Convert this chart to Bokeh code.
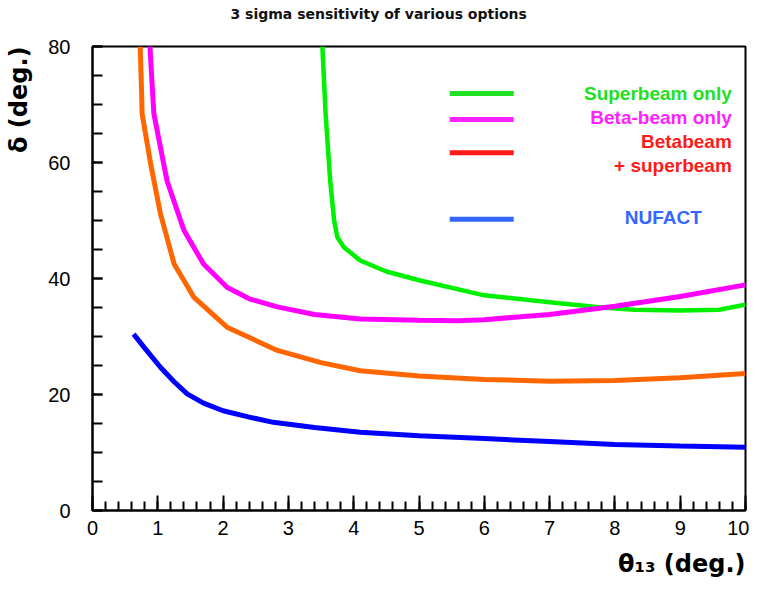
from bokeh.plotting import figure
from bokeh.models import Label, FixedTicker, Range1d, Title
from bokeh.embed import file_html
from bokeh.resources import INLINE

# ---- data (theta13 in degrees, delta in degrees) ----
theta_superbeam = [3.52, 3.57, 3.64, 3.70, 3.75, 3.85, 4.1, 4.5, 5.0, 6.0, 7.0, 7.8, 8.3, 9.0, 9.6, 10.0]
delta_superbeam = [80.0, 68.4, 56.9, 50.0, 47.1, 45.4, 43.1, 41.2, 39.7, 37.1, 35.9, 35.0, 34.6, 34.5, 34.6, 35.5]

theta_betabeam = [0.88, 0.91, 0.94, 1.14, 1.40, 1.70, 2.06, 2.4, 2.83, 3.4, 4.1, 5.0, 5.6, 6.0, 7.0, 8.0, 9.0, 10.0]
delta_betabeam = [80.0, 74.0, 68.4, 56.9, 48.3, 42.5, 38.5, 36.5, 35.1, 33.8, 33.0, 32.8, 32.7, 32.9, 33.8, 35.2, 36.9, 38.9]

theta_combined = [0.73, 0.75, 0.76, 0.89, 1.04, 1.25, 1.55, 2.06, 2.83, 3.5, 4.1, 5.0, 6.0, 7.0, 8.0, 9.0, 10.0]
delta_combined = [80.0, 73.0, 68.4, 59.8, 51.2, 42.5, 36.8, 31.6, 27.6, 25.5, 24.1, 23.2, 22.6, 22.3, 22.4, 22.9, 23.6]

theta_nufact = [0.63, 0.8, 1.04, 1.25, 1.45, 1.7, 2.0, 2.4, 2.77, 3.4, 4.1, 5.0, 6.0, 7.0, 8.0, 9.0, 10.0]
delta_nufact = [30.4, 28.0, 24.7, 22.2, 20.1, 18.5, 17.2, 16.1, 15.2, 14.3, 13.5, 12.9, 12.4, 11.9, 11.4, 11.1, 10.9]

x_ticks = [0, 1, 2, 3, 4, 5, 6, 7, 8, 9, 10]
y_ticks = [0, 20, 40, 60, 80]

legend_labels = ["Superbeam only", "Beta-beam only", "Betabeam", "+ superbeam", "NUFACT"]

p = figure(width=749, height=589, output_backend="svg", toolbar_location=None,
           title=None, x_range=Range1d(0, 10), y_range=Range1d(0, 80),
           min_border_left=92, min_border_right=4, min_border_top=46, min_border_bottom=79)
p.grid.visible = False
p.outline_line_color = "black"
p.outline_line_width = 2
p.background_fill_color = "white"
p.border_fill_color = "white"

tick_font = "Liberation Sans"
for ax in (p.xaxis, p.yaxis):
    ax.axis_line_color = "black"
    ax.axis_line_width = 2
    ax.major_tick_line_color = "black"
    ax.minor_tick_line_color = "black"
    ax.major_tick_line_width = 2
    ax.minor_tick_line_width = 2
    ax.major_tick_out = 0
    ax.minor_tick_out = 0
    ax.major_label_text_font = tick_font
    ax.major_label_text_font_size = "20px"
    ax.major_label_text_color = "black"

p.xaxis.ticker = FixedTicker(ticks=x_ticks, minor_ticks=[i * 0.2 for i in range(51)])
p.xaxis.major_tick_in = 15
p.xaxis.minor_tick_in = 9
p.xaxis.major_label_standoff = 10
p.yaxis.ticker = FixedTicker(ticks=y_ticks, minor_ticks=list(range(0, 81, 5)))
p.yaxis.major_tick_in = 10
p.yaxis.minor_tick_in = 10
p.yaxis.major_label_standoff = 22

# ---- curves ----
p.line(theta_superbeam, delta_superbeam, line_color="#00f000", line_width=4.5)
p.line(theta_betabeam, delta_betabeam, line_color="#ff00ff", line_width=5)
p.line(theta_combined, delta_combined, line_color="#ff6600", line_width=5)
p.line(theta_nufact, delta_nufact, line_color="#0000ff", line_width=5)

# ---- legend (drawn by hand) ----
leg_colors = ["#22e022", "#ff22ff", "#ff1a1a", "#3366ff"]
leg_y = [71.9, 67.4, 61.7, 50.2]
for c, yy in zip(leg_colors, leg_y):
    p.line([5.47, 6.45], [yy, yy], line_color=c, line_width=5)

lab_font = "Liberation Sans"
txt_specs = [
    (legend_labels[0], 9.79, 71.9, "#22e022", "right"),
    (legend_labels[1], 9.79, 67.8, "#ff22ff", "right"),
    (legend_labels[2], 9.79, 63.6, "#ff1a1a", "right"),
    (legend_labels[3], 9.79, 59.5, "#ff1a1a", "right"),
    (legend_labels[4], 8.74, 50.5, "#3366ff", "center"),
]
for t, xx, yy, c, al in txt_specs:
    p.add_layout(Label(x=xx, y=yy, text=t, text_color=c, text_font=lab_font,
                       text_font_size="19px", text_font_style="bold",
                       text_align=al, text_baseline="middle"))

# ---- title and axis titles (spacer titles push the real ones outward) ----
p.add_layout(Title(text=" ", text_font_size="14px", standoff=6), "above")
p.add_layout(Title(text="3 sigma sensitivity of various options", align="left", offset=138,
                   standoff=2, text_font="DejaVu Sans", text_font_size="14px",
                   text_font_style="bold", text_color="#111111"), "above")
p.add_layout(Title(text=" ", text_font_size="10px", standoff=0), "left")
p.add_layout(Title(text="\u03b4 (deg.)", align="right", standoff=0,
                   text_font="DejaVu Sans", text_font_size="24px", text_font_style="bold",
                   text_color="black"), "left")
p.add_layout(Title(text="\u03b8\u2081\u2083 (deg.)", align="right", standoff=20,
                   text_font="DejaVu Sans", text_font_size="24px", text_font_style="bold",
                   text_color="black"), "below")

open("out.html", "w").write(file_html(p, INLINE))
